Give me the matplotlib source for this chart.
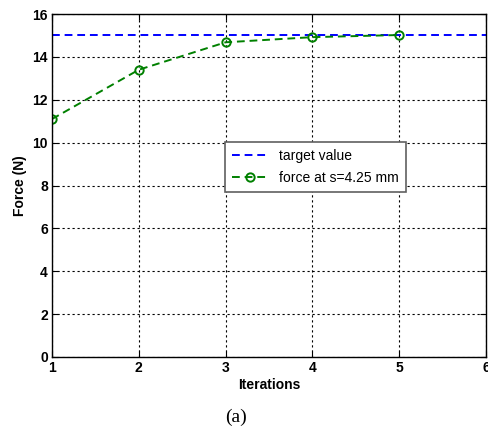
import matplotlib
matplotlib.use("Agg")
import matplotlib.pyplot as plt

# --- data ---
iterations = [1, 2, 3, 4, 5]
force = [11.1, 13.4, 14.68, 14.92, 15.02]
target = 15.0
x_ticks = [1, 2, 3, 4, 5, 6]
y_ticks = [0, 2, 4, 6, 8, 10, 12, 14, 16]

plt.rcParams['font.family'] = ['Liberation Sans', 'DejaVu Sans']

fig = plt.figure(figsize=(4.88, 4.33), dpi=100)
ax = fig.add_axes([52/488, (433-357)/433, 434/488, 343/433])

ax.axhline(target, color='#0000ff', ls=(0, (4, 2.5)), lw=1.4, label='target value')
ax.plot(iterations, force, color='#008000', ls=(0, (4, 2.5)), lw=1.4,
        marker='o', ms=6, mfc='none', mew=1.4, label='force at s=4.25 mm')

ax.set_xlim(1, 6)
ax.set_ylim(0, 16)
ax.set_xticks(x_ticks)
ax.set_yticks(y_ticks)
ax.grid(True, color='black', ls=(0, (2, 2.5)), lw=0.8)
ax.tick_params(direction='in', length=4, top=True, right=True, labelsize=10, pad=3)
for lbl in ax.get_xticklabels() + ax.get_yticklabels():
    lbl.set_fontweight('bold')
for s in ax.spines.values():
    s.set_linewidth(1.0)

ax.set_xlabel('Iterations', fontsize=10, fontweight='bold', labelpad=2)
ax.set_ylabel('Force (N)', fontsize=10, fontweight='bold', labelpad=4)

leg = ax.legend(loc='upper left', bbox_to_anchor=((225-52)/434, (357-142)/343),
                fontsize=10, frameon=True, fancybox=False, handlelength=2.6,
                borderpad=0.5, labelspacing=0.6, borderaxespad=0)
leg.get_frame().set_edgecolor('#606060')
leg.get_frame().set_linewidth(1.2)
leg.get_frame().set_alpha(1)

fig.text(236/488, 1 - 417/433, '(a)', fontsize=14, family='Liberation Serif',
         ha='center', va='center')

fig.savefig('out.png', dpi=100)
